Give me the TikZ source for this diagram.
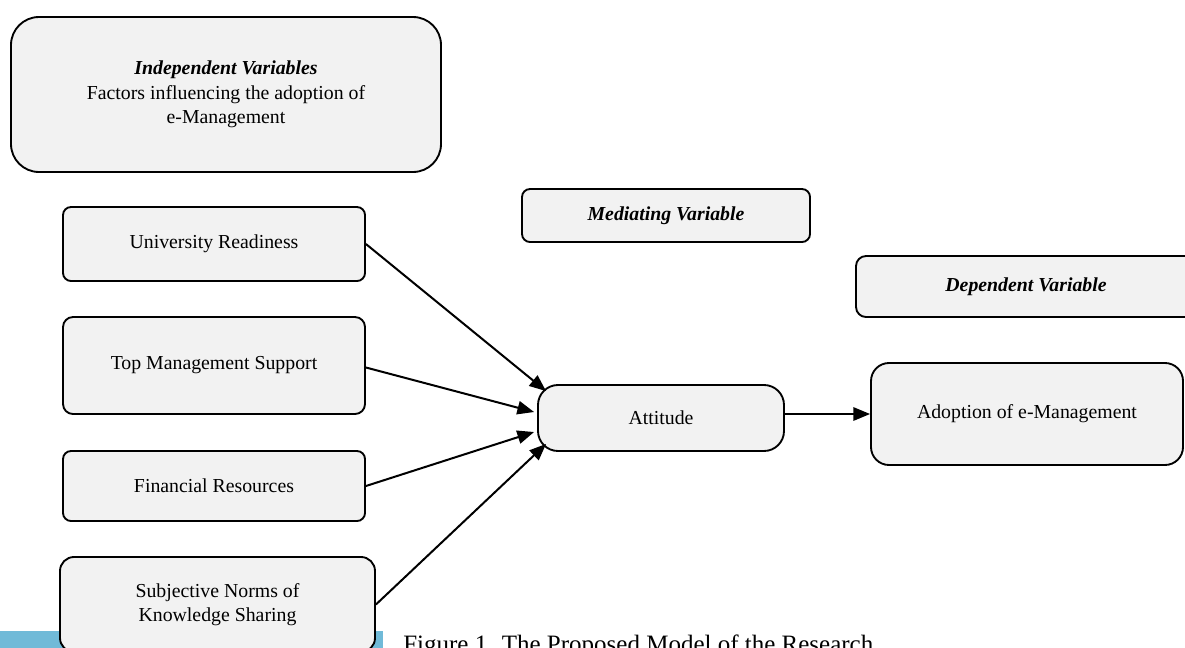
\documentclass[tikz,border=0pt]{standalone}
\usepackage{fontspec}
\setmainfont{Liberation Serif}
\usetikzlibrary{arrows.meta,calc}
\definecolor{boxgray}{HTML}{F2F2F2}
\definecolor{barblue}{RGB}{112,186,216}
\begin{document}
\begin{tikzpicture}[x=0.75pt,y=-0.75pt,
  box/.style={draw, line width=1.4pt, fill=boxgray, align=center, inner sep=0pt,
    font=\fontsize{14.85}{18.5}\selectfont},
  conn/.style={line width=1.5pt, -{Triangle[length=12.5pt,width=10pt]}}]
\useasboundingbox (0,0) rectangle (1185,647);
\clip (0,0) rectangle (1185,647);
\fill[white] (0,0) rectangle (1185,647);
\fill[barblue] (0,631) rectangle (383,660);
\node[box, rounded corners=21pt, minimum width=322.5pt, minimum height=116.25pt] (ind) at (226,94.5)
  {\textbf{\textit{Independent Variables}}\\Factors influencing the adoption of\\e-Management};
\node[box, rounded corners=6pt, minimum width=226.5pt, minimum height=55.5pt] (ur) at (214,244) {University Readiness};
\node[box, rounded corners=7.5pt, minimum width=226.5pt, minimum height=72.75pt] (tms) at (214,365.5) {Top Management Support};
\node[box, rounded corners=6pt, minimum width=226.5pt, minimum height=52.5pt] (fr) at (214,486) {Financial Resources};
\node[box, rounded corners=10.5pt, minimum width=236.25pt, minimum height=71.25pt] (sn) at (217.5,604.5) {Subjective Norms of\\Knowledge Sharing};
\node[box, rounded corners=6pt, minimum width=216pt, minimum height=39.75pt] (med) at (666,215.5) {\textbf{\textit{Mediating Variable}}};
\node[box, rounded corners=7.5pt, minimum width=255pt, minimum height=45.75pt] (dep) at (1026,286.5) {\textbf{\textit{Dependent Variable}}};
\node[box, rounded corners=15pt, minimum width=184.5pt, minimum height=49.5pt] (att) at (661,418) {Attitude};
\node[box, rounded corners=13.5pt, minimum width=234pt, minimum height=76.5pt] (adopt) at (1027,414) {Adoption of e-Management};
\draw[conn] (ur.east) -- ($(att.north west)+(9,7)$);
\draw[conn] ($(tms.east)+(0,2)$) -- ($(att.west)+(-3,-6)$);
\draw[conn] (fr.east) -- ($(att.west)+(-3,14)$);
\draw[conn] (sn.east) -- ($(att.south west)+(9,-8)$);
\draw[conn] (att.east |- adopt.west) -- (adopt.west);
\node[anchor=base west, inner sep=0pt, font=\fontsize{18.75}{22}\selectfont] (cap) at (403,652) {Figure 1. The Proposed Model of the Research};
\end{tikzpicture}
\end{document}
